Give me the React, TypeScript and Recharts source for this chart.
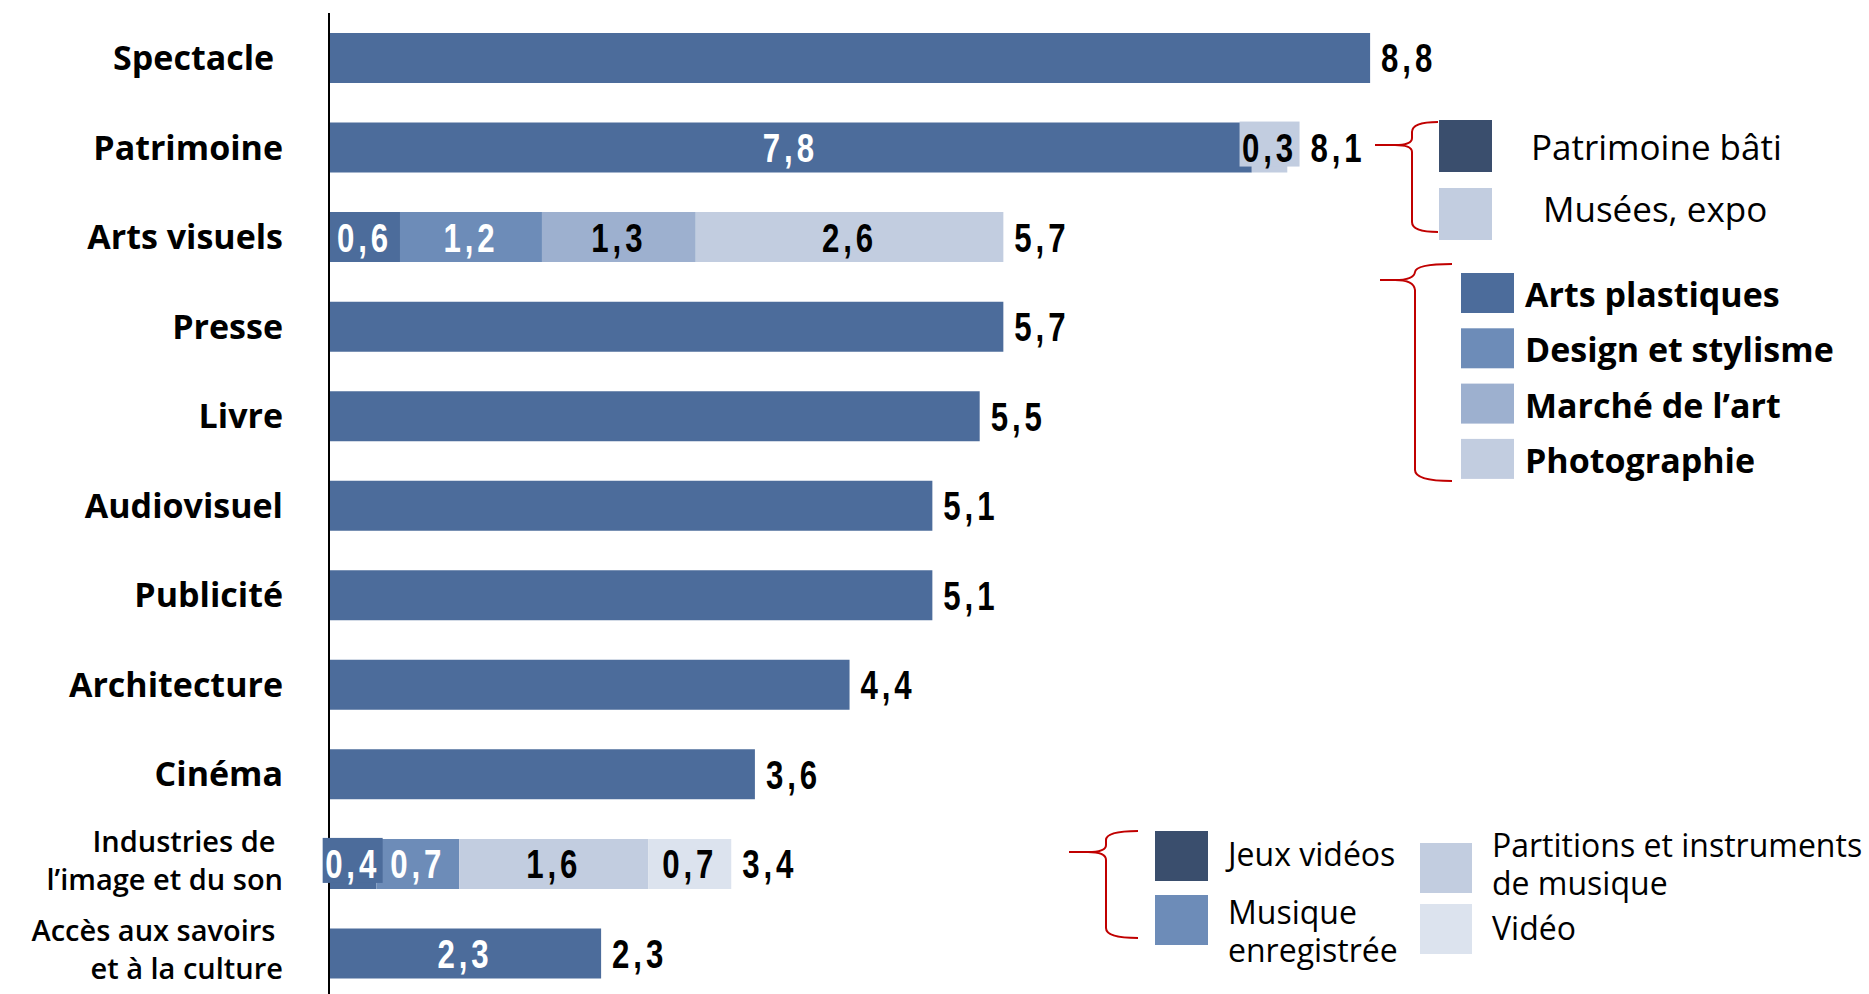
import React from "react";
import { BarChart, Bar, XAxis, YAxis, Cell, LabelList } from "recharts";

// catégories (haut → bas)
const categories = [
  "Spectacle\u00A0",
  "Patrimoine",
  "Arts visuels",
  "Presse",
  "Livre",
  "Audiovisuel",
  "Publicité",
  "Architecture",
  "Cinéma",
  "Industries de\u00A0\nl’image et du son",
  "Accès aux savoirs\u00A0\net à la culture",
];

// segments empilés
const seg1 = [8.8, 7.8, 0.6, 5.7, 5.5, 5.1, 5.1, 4.4, 3.6, 0.4, 2.3];
const seg2 = [0, 0.3, 1.2, 0, 0, 0, 0, 0, 0, 0.7, 0];
const seg3 = [0, 0, 1.3, 0, 0, 0, 0, 0, 0, 1.6, 0];
const seg4 = [0, 0, 2.6, 0, 0, 0, 0, 0, 0, 0.7, 0];
const totals = [8.8, 8.1, 5.7, 5.7, 5.5, 5.1, 5.1, 4.4, 3.6, 3.4, 2.3];
// rows whose segments carry their own value inside
const segLabelled = [false, true, true, false, false, false, false, false, false, true, true];

const BLUE = "#4C6C9B";
const MID = "#6D8CB8";
const SOFT = "#9DB0CF";
const LIGHT = "#C2CDE0";
const PALE = "#DCE3EE";
const DARK = "#3A4E6D";
const RED = "#C00000";

const seg1Colors = categories.map(() => BLUE);
const seg2Colors = categories.map((_, i) => (i === 1 ? LIGHT : MID));
const seg3Colors = categories.map((_, i) => (i === 2 ? SOFT : LIGHT));
const seg4Colors = categories.map((_, i) => (i === 2 ? LIGHT : PALE));

const segs = [seg1, seg2, seg3, seg4];
const segColors = [seg1Colors, seg2Colors, seg3Colors, seg4Colors];
// last non-empty segment of each row, where the total goes
const lastSeg = categories.map((_, i) => {
  let k = 0;
  segs.forEach((s, j) => {
    if (s[i] > 0) k = j;
  });
  return k;
});

const data = categories.map((name, i) => ({
  name,
  s1: seg1[i],
  s2: seg2[i],
  s3: seg3[i],
  s4: seg4[i],
}));

const fmt = (v: number) => v.toFixed(1).replace(".", ",");
const VALUE_FONT = "'Liberation Sans', Arial, sans-serif";
const TEXT_FONT = "'Open Sans', 'Noto Sans', sans-serif";

const ValueText = ({ x, y, anchor, fill, text }: any) => (
  <text
    transform={`translate(${x},${y}) scale(0.78,1)`}
    dy="0.36em"
    textAnchor={anchor}
    fill={fill}
    fontFamily={VALUE_FONT}
    fontWeight={700}
    fontSize={40}
    letterSpacing={5}
  >
    {text}
  </text>
);

const makeLabel = (seg: number) => (p: any) => {
  const { x, y, width, height, value } = p;
  const row = categories.indexOf(String(value));
  if (row < 0) return null;
  const v = segs[seg][row];
  const fill = segColors[seg][row];
  const w = Number(width);
  const cx = Number(x) + w / 2;
  const cy = Number(y) + Number(height) / 2;
  const tw = 60;
  const showSeg = segLabelled[row] && v > 0;
  const boxed = showSeg && w < tw;
  const showTotal = lastSeg[row] === seg;
  const end = boxed ? Math.max(Number(x) + w, cx + tw / 2) : Number(x) + w;
  return (
    <g>
      {boxed && <rect x={cx - tw / 2} y={Number(y) - 1} width={tw} height={Number(height) - 5} fill={fill} />}
      {showSeg && (
        <ValueText x={cx} y={cy} anchor="middle" fill={fill === BLUE || fill === MID ? "#fff" : "#000"} text={fmt(v)} />
      )}
      {showTotal && <ValueText x={end + 11} y={cy} anchor="start" fill="#000" text={fmt(totals[row])} />}
    </g>
  );
};

const CatTick = (p: any) => {
  const { x, y, payload } = p;
  const lines = String(payload.value).split("\n");
  if (lines.length === 1) {
    return (
      <text x={x} y={y} dy="0.36em" textAnchor="end" fontFamily={TEXT_FONT} fontWeight={700} fontSize={34} fill="#000">
        {lines[0]}
      </text>
    );
  }
  return (
    <text x={x} y={y} textAnchor="end" fontFamily={TEXT_FONT} fontWeight={600} fontSize={29} fill="#000">
      {lines.map((l, i) => (
        <tspan key={i} x={x} y={y - 12 + i * 38}>
          {l}
        </tspan>
      ))}
    </text>
  );
};

function Legends() {
  const t1 = { fontFamily: TEXT_FONT, fontSize: 35, fill: "#000" } as const;
  const t2 = { fontFamily: TEXT_FONT, fontSize: 34, fontWeight: 700, fill: "#000" } as const;
  const t3 = { fontFamily: TEXT_FONT, fontSize: 32, fill: "#000" } as const;
  return (
    <svg width={1869} height={994} style={{ position: "absolute", left: 0, top: 0, pointerEvents: "none" }}>
      <g fill="none" stroke={RED} strokeWidth={2}>
        <path d="M1438,122 Q1412,122 1412,132 L1412,138 Q1412,145 1395,145 L1375,145 M1395,145 Q1412,145 1412,152 L1412,222 Q1412,232 1438,232" />
        <path d="M1452,264 Q1416,264 1415,272 Q1414,280 1395,280 L1380,280 M1395,280 Q1414,280 1415,290 L1415,470 Q1415,481 1452,481" />
        <path d="M1138,831 Q1106,831 1106,840 L1106,845 Q1106,852 1088,852 L1069,852 M1088,852 Q1106,852 1106,860 L1106,928 Q1106,938 1138,938" />
      </g>
      {/* Patrimoine */}
      <rect x={1439} y={120} width={53} height={52} fill={DARK} />
      <rect x={1439} y={188} width={53} height={52} fill={LIGHT} />
      <text x={1531} y={160} {...t1}>Patrimoine bâti</text>
      <text x={1543} y={222} {...t1}>Musées, expo</text>
      {/* Arts visuels */}
      {[
        [BLUE, "Arts plastiques"],
        [MID, "Design et stylisme"],
        [SOFT, "Marché de l’art"],
        [LIGHT, "Photographie"],
      ].map(([c, l], i) => (
        <g key={l}>
          <rect x={1461} y={273 + i * 55.3} width={53} height={40} fill={c} />
          <text x={1525} y={307 + i * 55.3} {...t2}>{l}</text>
        </g>
      ))}
      {/* Industries de l'image et du son */}
      <rect x={1155} y={831} width={53} height={50} fill={DARK} />
      <rect x={1155} y={895} width={53} height={50} fill={MID} />
      <rect x={1420} y={843} width={52} height={50} fill={LIGHT} />
      <rect x={1420} y={904} width={52} height={50} fill={PALE} />
      <text x={1228} y={866} {...t3}>Jeux vidéos</text>
      <text {...t3}>
        <tspan x={1228} y={924}>Musique</tspan>
        <tspan x={1228} y={962}>enregistrée</tspan>
      </text>
      <text {...t3}>
        <tspan x={1492} y={857}>Partitions et instruments</tspan>
        <tspan x={1492} y={895}>de musique</tspan>
      </text>
      <text x={1492} y={940} {...t3}>Vidéo</text>
    </svg>
  );
}

export default function App() {
  return (
    <div style={{ position: "fixed", left: 0, top: 0, width: 1869, height: 994, overflow: "hidden", background: "#fff" }}>
      <BarChart
        width={1869}
        height={998}
        data={data}
        layout="vertical"
        margin={{ top: 13, right: 2, bottom: 0, left: 0 }}
        barSize={50}
      >
        <XAxis type="number" hide domain={[0, 13]} />
        <YAxis
          type="category"
          dataKey="name"
          width={329}
          tickLine={false}
          tickSize={0}
          tickMargin={46}
          axisLine={{ stroke: "#000", strokeWidth: 2 }}
          tick={<CatTick />}
          interval={0}
        />
        {["s1", "s2", "s3", "s4"].map((key, j) => (
          <Bar key={key} dataKey={key} stackId="a" isAnimationActive={false}>
            {segColors[j].map((c, i) => (
              <Cell key={i} fill={c} />
            ))}
            <LabelList dataKey="name" content={makeLabel(j)} />
          </Bar>
        ))}
      </BarChart>
      <Legends />
    </div>
  );
}
